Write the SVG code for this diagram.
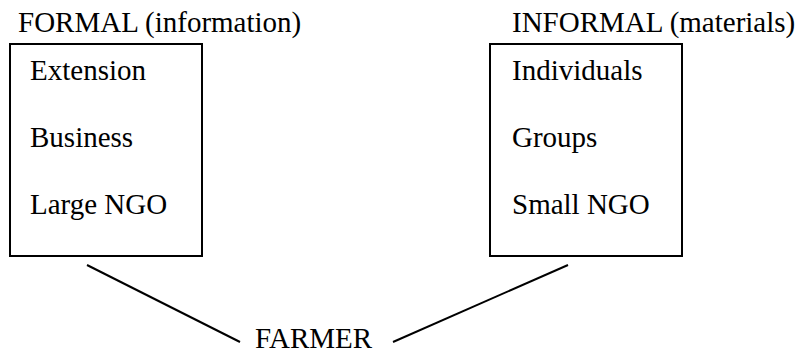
<svg xmlns="http://www.w3.org/2000/svg" width="799" height="351" viewBox="0 0 799 351">
<style>
text{font-family:"Liberation Serif","Times New Roman",serif;font-size:29px;fill:#000}
.box{fill:none;stroke:#000;stroke-width:2}
.conn{stroke:#000;stroke-width:2;fill:none}
</style>
<rect width="799" height="351" fill="#fff"/>
<g id="formal">
<text x="18" y="32">FORMAL (information)</text>
<rect class="box" x="10" y="44" width="192" height="212"/>
<text x="30" y="80">Extension</text>
<text x="30" y="147">Business</text>
<text x="30" y="214">Large NGO</text>
</g>
<g id="informal">
<text x="512" y="32">INFORMAL (materials)</text>
<rect class="box" x="490" y="44" width="192" height="212"/>
<text x="512" y="80">Individuals</text>
<text x="512" y="147">Groups</text>
<text x="512" y="214">Small NGO</text>
</g>
<g id="farmer">
<text x="255" y="348">FARMER</text>
</g>
<g id="connectors">
<line class="conn" x1="87" y1="265" x2="240" y2="342"/>
<line class="conn" x1="393" y1="342" x2="568" y2="265"/>
</g>
</svg>
